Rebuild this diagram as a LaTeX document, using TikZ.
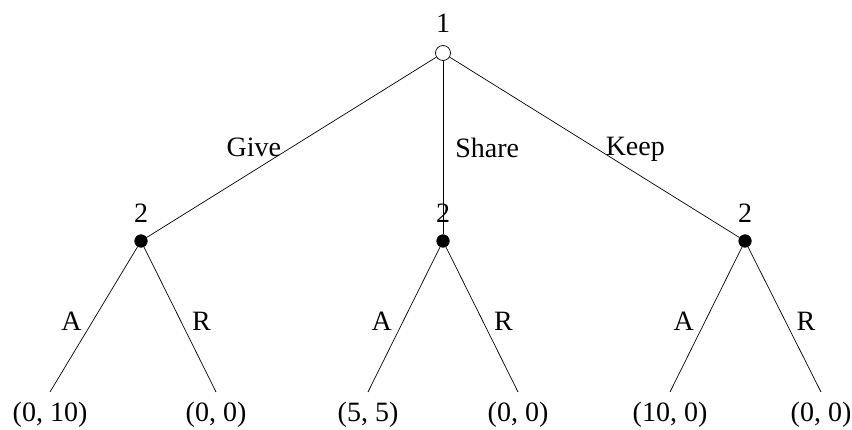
\documentclass[tikz,border=0pt]{standalone}
\usepackage{fontspec}
\setmainfont{Liberation Serif}
\tikzset{
  opennode/.style={circle,draw,fill=white,inner sep=0pt,minimum size=15pt},
  solidnode/.style={circle,draw,fill=black,inner sep=0pt,minimum size=12.5pt},
  player/.style={label={[inner sep=2pt,label distance=10pt]above:#1}},
  payoff/.style={anchor=north,inner xsep=0pt,inner ysep=10pt},
  move/.style={inner sep=2pt},
}
\begin{document}
\begin{tikzpicture}[x=1pt,y=-1pt,line width=0.7pt,font=\fontsize{28}{34}\selectfont]
      \useasboundingbox (0,0) rectangle (852,430);
      \node[opennode,player=1] (R) at (443,53){};
      \node[solidnode,player=2] (G) at (141,241){};
      \node[solidnode,player=2] (S) at (443,241){};
      \node[solidnode,player=2] (K) at (745,241){};

      \node[payoff] (GA) at (50,392){(0, 10)};
      \node[payoff] (GR) at (216,392){(0, 0)};
      \node[payoff] (SA) at (368,392){(5, 5)};
      \node[payoff] (SR) at (518,392){(0, 0)};
      \node[payoff] (KA) at (670,392){(10, 0)};
      \node[payoff] (KR) at (821,392){(0, 0)};

      \draw (R) edge node[move,pos=0.5,left=8pt]{Give} (G);
      \draw (R) edge node[move,pos=0.5,right=10pt]{Share} (S);
      \draw (R) edge node[move,pos=0.51,right=6pt]{Keep} (K);

      \draw (G) edge node[move,pos=0.51,left=9pt]{A} (GA.north);
      \draw (G) edge node[move,pos=0.51,right=9pt]{R} (GR.north);
      \draw (S) edge node[move,pos=0.51,left=9pt]{A} (SA.north);
      \draw (S) edge node[move,pos=0.51,right=9pt]{R} (SR.north);
      \draw (K) edge node[move,pos=0.51,left=9pt]{A} (KA.north);
      \draw (K) edge node[move,pos=0.51,right=9pt]{R} (KR.north);
    \end{tikzpicture}
\end{document}
